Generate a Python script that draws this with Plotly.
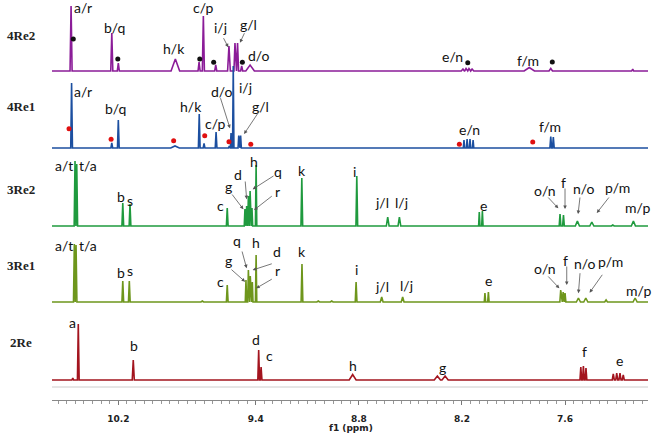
import plotly.graph_objects as go

# ---------------- data (ppm, intensity) ----------------
names = ["4Re2", "4Re1", "3Re2", "3Re1", "2Re"]

ppm_4re2 = [10.475, 10.238, 10.200, 9.868, 9.730, 9.705, 9.633, 9.556, 9.521, 9.506,
            9.482, 9.433, 8.194, 8.176, 8.159, 8.141, 7.808, 7.683, 7.206]
int_4re2 = [65, 38, 8, 12, 9, 55, 6, 25, 28, 28, 5, 6, 2, 2.5, 2.5, 2, 3.5, 2.5, 2]
wid_4re2 = [0.006, 0.006, 0.006, 0.025, 0.006, 0.006, 0.006, 0.008, 0.006, 0.006,
            0.006, 0.025, 0.01, 0.01, 0.01, 0.01, 0.03, 0.01, 0.006]

ppm_4re1 = [10.472, 10.238, 10.200, 9.870, 9.729, 9.701, 9.631, 9.554, 9.544, 9.531,
            9.499, 9.488, 8.188, 8.170, 8.153, 8.135, 7.683, 7.668]
int_4re1 = [65, 5, 28, 2, 34, 4.5, 16, 2, 15, 82, 12.5, 12.5, 8, 9, 9, 8, 11.5, 11]
wid_4re1 = [0.005, 0.005, 0.005, 0.025, 0.005, 0.005, 0.005, 0.005, 0.004, 0.004,
            0.004, 0.004, 0.004, 0.004, 0.004, 0.004, 0.005, 0.005]

ppm_3re2 = [10.452, 10.442, 10.174, 10.132, 9.566, 9.463, 9.453, 9.443, 9.433, 9.422,
            9.398, 9.132, 8.812, 8.632, 8.564, 8.099, 8.081, 7.629, 7.609, 7.528,
            7.444, 7.322, 7.202]
int_3re2 = [65, 62, 23, 22, 18, 17, 20, 30, 35, 18, 61, 48, 50, 9, 9, 14, 15, 12, 11,
            5, 4, 1, 5]
wid_3re2 = [0.005, 0.005, 0.005, 0.005, 0.005, 0.004, 0.004, 0.004, 0.004, 0.004,
            0.004, 0.005, 0.005, 0.008, 0.008, 0.004, 0.004, 0.005, 0.005, 0.012,
            0.012, 0.008, 0.012]

ppm_3re1 = [10.456, 10.446, 10.174, 10.136, 9.711, 9.566, 9.457, 9.443, 9.432, 9.420,
            9.398, 9.131, 9.036, 8.958, 8.816, 8.667, 8.545, 8.066, 8.046, 7.625,
            7.611, 7.600, 7.522, 7.479, 7.361, 7.192]
int_3re1 = [58, 57, 21, 21, 1, 17, 22, 32, 26, 20, 47, 38, 1, 1, 20, 5, 5, 9, 10, 12,
            10, 9, 4, 4, 2, 4]
wid_3re1 = [0.005, 0.005, 0.005, 0.005, 0.008, 0.005, 0.004, 0.004, 0.004, 0.004,
            0.004, 0.005, 0.008, 0.008, 0.005, 0.008, 0.008, 0.004, 0.004, 0.005,
            0.005, 0.005, 0.012, 0.012, 0.008, 0.012]

ppm_2re = [10.465, 10.433, 10.113, 9.383, 9.369, 8.836, 8.343, 8.298, 7.508, 7.493,
           7.478, 7.319, 7.299, 7.280, 7.261]
int_2re = [2, 56, 20, 30, 13, 5.5, 4, 4, 13, 14, 12, 6, 7, 7, 5]
wid_2re = [0.005, 0.005, 0.006, 0.005, 0.005, 0.02, 0.018, 0.018, 0.005, 0.005,
           0.005, 0.006, 0.006, 0.006, 0.006]

dot_black_ppm = [10.462, 10.203, 9.726, 9.645, 9.478, 8.166, 7.674]
dot_black_int = [32, 12, 12, 8.7, 8.7, 8.3, 9]
dot_red_ppm = [10.487, 10.242, 9.878, 9.697, 9.556, 9.429, 8.215, 7.788]
dot_red_int = [19.3, 8.7, 7.3, 12.3, 6.3, 3.7, 3.7, 6]

tick_vals = [10.2, 9.4, 8.8, 8.2, 7.6]
tick_text = ["10.2", "9.4", "8.8", "8.2", "7.6"]

# ---------------- layout constants ----------------
X_LEFT, X_RIGHT = 10.586, 7.117
offsets = [329, 252, 174, 98, 20]
colors = ["#8B1C98", "#1C4FA0", "#1F9A3E", "#6E961C", "#A3141E"]
spectra = [(ppm_4re2, int_4re2, wid_4re2), (ppm_4re1, int_4re1, wid_4re1),
           (ppm_3re2, int_3re2, wid_3re2), (ppm_3re1, int_3re1, wid_3re1),
           (ppm_2re, int_2re, wid_2re)]


def stick_line(ppm, inten, wid, off):
    pts = [(X_LEFT, 0.0), (X_RIGHT, 0.0)]
    for p, h, w in zip(ppm, inten, wid):
        pts += [(p + w, 0.0), (p, h), (p - w, 0.0)]
    pts.sort(key=lambda t: -t[0])
    return [a for a, _ in pts], [b + off for _, b in pts]


fig = go.Figure()
for (pp, ii, ww), off, col, nm in zip(spectra, offsets, colors, names):
    xs, ys = stick_line(pp, ii, ww, off)
    fig.add_trace(go.Scatter(x=xs, y=ys, mode="lines", name=nm,
                             line=dict(color=col, width=1.6), hoverinfo="skip"))

fig.add_trace(go.Scatter(x=dot_black_ppm, y=[v + offsets[0] for v in dot_black_int],
                         mode="markers", marker=dict(color="#111", size=5), hoverinfo="skip"))
fig.add_trace(go.Scatter(x=dot_red_ppm, y=[v + offsets[1] for v in dot_red_int],
                         mode="markers", marker=dict(color="#E01010", size=5), hoverinfo="skip"))

LBL = dict(family="Lato", size=14, color="#111")
labels = [
    # 4Re2
    ("a/r", 10.405, 392.5), ("b/q", 10.224, 373), ("h/k", 9.875, 352), ("c/p", 9.703, 392.5),
    ("i/j", 9.608, 372.5), ("g/l", 9.443, 376), ("d/o", 9.381, 345), ("e/n", 8.255, 343.3),
    ("f/m", 7.813, 340),
    # 4Re1
    ("a/r", 10.405, 308.7), ("b/q", 10.219, 291.7), ("h/k", 9.778, 294), ("c/p", 9.637, 276.7),
    ("d/o", 9.595, 308.7), ("i/j", 9.458, 312.5), ("g/l", 9.375, 293.3), ("e/n", 8.157, 271),
    ("f/m", 7.687, 273.3),
    # 3Re2
    ("a/t", 10.515, 235), ("t/a", 10.379, 235), ("b", 10.184, 203.3), ("s", 10.132, 200),
    ("c", 9.608, 194.2), ("g", 9.557, 214), ("d", 9.503, 225.3), ("h", 9.412, 238.3),
    ("q", 9.273, 229), ("r", 9.276, 208.7), ("k", 9.132, 229.5), ("i", 8.824, 228.3),
    ("j/l", 8.667, 198), ("l/j", 8.550, 198), ("e", 8.077, 195), ("o/n", 7.716, 210),
    ("f", 7.610, 218), ("n/o", 7.489, 211.5), ("p/m", 7.294, 213), ("m/p", 7.181, 193),
    # 3Re1
    ("a/t", 10.515, 154.7), ("t/a", 10.379, 154.7), ("b", 10.184, 127.2), ("s", 10.132, 129.2),
    ("c", 9.608, 118.3), ("g", 9.557, 139.5), ("q", 9.511, 159.5), ("h", 9.398, 157.3),
    ("d", 9.276, 148.7), ("r", 9.276, 129.5), ("k", 9.131, 148.7), ("i", 8.816, 130.7),
    ("j/l", 8.667, 113.3), ("l/j", 8.525, 115), ("e", 8.046, 120), ("o/n", 7.716, 131.7),
    ("f", 7.600, 140), ("n/o", 7.483, 136.7), ("p/m", 7.338, 138.3), ("m/p", 7.173, 110),
    # 2Re
    ("a", 10.465, 78), ("b", 10.107, 54.7), ("d", 9.397, 61), ("c", 9.321, 44.2),
    ("h", 8.832, 35), ("g", 8.315, 32.3), ("f", 7.486, 49), ("e", 7.281, 39.2),
]
for t, x, y in labels:
    fig.add_annotation(x=x, y=y, text=t, showarrow=False, font=LBL,
                       xanchor="center", yanchor="middle")

arrows = [  # (tail ppm, tail y, head ppm, head y)
    (9.592, 363.3, 9.560, 352.7), (9.462, 368.3, 9.492, 357.3),
    (9.608, 303.3, 9.550, 271.7), (9.375, 290, 9.468, 266),
    (9.544, 207, 9.472, 190.7), (9.462, 220, 9.453, 200.7), (9.288, 225, 9.418, 210.7),
    (9.298, 205, 9.410, 190), (7.706, 204, 7.639, 191.7), (7.600, 213, 7.600, 191),
    (7.512, 204, 7.524, 186), (7.338, 204, 7.415, 187),
    (9.550, 131.7, 9.462, 118.3), (9.482, 150, 9.453, 131.7), (9.298, 136.7, 9.418, 130),
    (9.298, 121.7, 9.398, 111.7), (7.706, 125, 7.633, 111.7), (7.590, 135, 7.590, 115),
    (7.512, 128.3, 7.522, 106.7), (7.377, 126.7, 7.457, 107.3),
]
for tx, ty, hx, hy in arrows:
    fig.add_annotation(x=hx, y=hy, ax=tx, ay=ty, xref="x", yref="y", axref="x", ayref="y",
                       text="", showarrow=True, arrowhead=2, arrowsize=0.9,
                       arrowwidth=0.8, arrowcolor="#555")

name_pos = [35, 106, 189, 265, 342]
for nm, py in zip(names, name_pos):
    fig.add_annotation(xref="paper", yref="paper", x=(21 - 52) / 596, y=(400 - py) / 400,
                       text=nm, showarrow=False, xanchor="center", yanchor="middle",
                       font=dict(family="Liberation Serif", size=13, color="#222", weight="bold"))

fig.add_annotation(xref="paper", yref="paper", x=0.502, y=(400 - 427.5) / 400,
                   text="f1 (ppm)", showarrow=False, xanchor="center", yanchor="middle",
                   font=dict(family="DejaVu Sans", size=9, color="#222", weight="bold"))

fig.add_shape(type="line", xref="paper", yref="y", x0=0, x1=1, y0=13, y1=13,
              line=dict(color="#CCCCCC", width=1))

fig.update_layout(
    width=654, height=434, margin=dict(l=52, r=6, t=0, b=34),
    paper_bgcolor="white", plot_bgcolor="white", showlegend=False,
    xaxis=dict(range=[X_LEFT, X_RIGHT], showgrid=False, zeroline=False,
               showline=True, linecolor="#888", linewidth=1,
               tickvals=tick_vals, ticktext=tick_text, ticks="outside", ticklen=4,
               tickcolor="#777", ticklabelstandoff=6,
               tickfont=dict(family="DejaVu Sans", size=9, color="#222", weight="bold"),
               minor=dict(dtick=0.05, tick0=0, ticks="outside", ticklen=3, tickcolor="#999")),
    yaxis=dict(range=[0, 400], visible=False),
)

fig.write_html("out.html", post_script="document.body.style.margin='0';",
               config={"displayModeBar": False})
